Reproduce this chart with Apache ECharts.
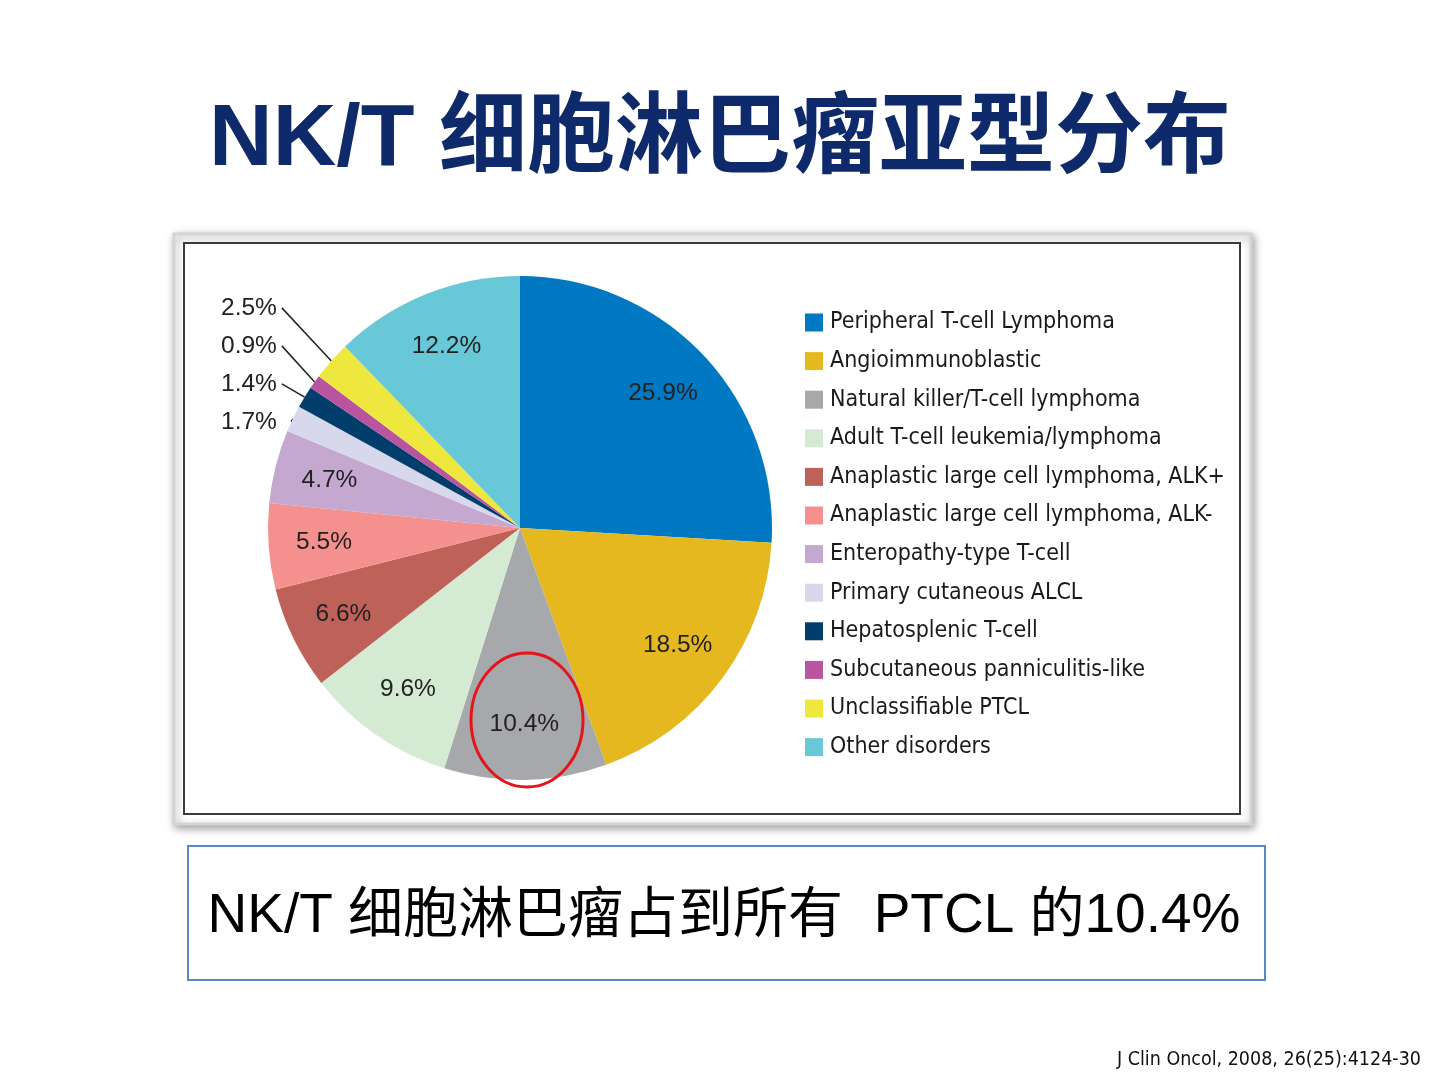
<!DOCTYPE html>
<html>
<head>
<meta charset="utf-8">
<script src="https://cdn.jsdelivr.net/npm/echarts@6/dist/echarts.min.js"></script>
<style>
html,body{margin:0;padding:0;background:#fff;}
#chart{width:1440px;height:1080px;}
</style>
</head>
<body>
<div id="chart"></div>
<script>
const titleText = 'NK/T 细胞淋巴瘤亚型分布';
const noteText = 'NK/T 细胞淋巴瘤占到所有  PTCL 的10.4%';
const sourceText = 'J Clin Oncol, 2008, 26(25):4124-30';
const categories = [
  'Peripheral T-cell Lymphoma',
  'Angioimmunoblastic',
  'Natural killer/T-cell lymphoma',
  'Adult T-cell leukemia/lymphoma',
  'Anaplastic large cell lymphoma, ALK+',
  'Anaplastic large cell lymphoma, ALK-',
  'Enteropathy-type T-cell',
  'Primary cutaneous ALCL',
  'Hepatosplenic T-cell',
  'Subcutaneous panniculitis-like',
  'Unclassifiable PTCL',
  'Other disorders'
];
const values = [25.9, 18.5, 10.4, 9.6, 6.6, 5.5, 4.7, 1.7, 1.4, 0.9, 2.5, 12.2];
const colors = ['#0079C2','#E6B820','#A7A8AC','#D5EAD3','#BE6159','#F4918F','#C4A8D0','#D8D8EC','#023E6B','#B9559F','#EEE83E','#68C8D8'];
const outsideLabeled = ['Primary cutaneous ALCL','Hepatosplenic T-cell','Subcutaneous panniculitis-like','Unclassifiable PTCL'];

const narrow = '"Liberation Sans Narrow", "DejaVu Sans Condensed", "Arial Narrow", sans-serif';
const sans = '"Liberation Sans", Arial, "Noto Sans CJK SC", sans-serif';

const mainData = categories.map((name, i) => {
  const out = outsideLabeled.includes(name);
  return {
    name: name,
    value: values[i],
    itemStyle: { color: colors[i] },
    label: { show: out },
    labelLine: { show: out }
  };
});
const labelData = categories.map((name, i) => ({
  name: name,
  value: values[i],
  label: { show: !outsideLabeled.includes(name) }
}));

const chart = echarts.init(document.getElementById('chart'), null, { renderer: 'canvas' });
chart.setOption({
  backgroundColor: '#ffffff',
  animation: false,
  color: colors,
  title: {
    text: titleText,
    left: 'center',
    top: 92,
    textStyle: {
      fontFamily: '"Liberation Sans", Arial, "Noto Sans CJK SC", sans-serif',
      fontSize: 88,
      fontWeight: 'bold',
      color: '#0F2A6B'
    }
  },
  legend: {
    orient: 'vertical',
    left: 800,
    top: 306,
    itemWidth: 18,
    itemHeight: 18,
    itemGap: 15.6,
    icon: 'rect',
    selectedMode: false,
    data: categories,
    textStyle: {
      fontFamily: narrow,
      fontSize: 23,
      color: '#1a1a1a',
      lineHeight: 18,
      padding: [0, 0, 0, 2]
    }
  },
  graphic: [
    {
      type: 'rect', z: -10,
      shape: { x: 174, y: 234, width: 1077, height: 590 },
      style: { fill: '#ffffff', stroke: '#d4d4d4', lineWidth: 3, shadowBlur: 8, shadowColor: 'rgba(0,0,0,0.35)', shadowOffsetX: 2, shadowOffsetY: 3 }
    },
    {
      type: 'rect', z: -9,
      shape: { x: 184, y: 243, width: 1056, height: 571 },
      style: { fill: '#ffffff', stroke: '#3a3a3a', lineWidth: 2 }
    },
    {
      type: 'ellipse', z: 100,
      shape: { cx: 527, cy: 720, rx: 56, ry: 67 },
      style: { fill: 'none', stroke: '#E5141B', lineWidth: 3 }
    },
    {
      type: 'rect', z: 1,
      shape: { x: 188, y: 846, width: 1077, height: 134 },
      style: { fill: '#ffffff', stroke: '#5B86C4', lineWidth: 2 }
    },
    {
      type: 'text', z: 2,
      x: 724, y: 917,
      style: {
        text: noteText,
        fontFamily: sans,
        fontSize: 55,
        fill: '#000000',
        textAlign: 'center',
        textVerticalAlign: 'middle'
      }
    },
    {
      type: 'text', z: 2,
      x: 1421, y: 1060,
      style: {
        text: sourceText,
        fontFamily: narrow,
        fontSize: 19.5,
        fill: '#111111',
        textAlign: 'right',
        textVerticalAlign: 'middle'
      }
    }
  ],
  series: [
    {
      type: 'pie',
      name: 'main',
      center: [520, 528],
      radius: [0, 252],
      startAngle: 90,
      clockwise: true,
      silent: true,
      avoidLabelOverlap: true,
      itemStyle: { borderWidth: 0 },
      label: {
        position: 'outside',
        alignTo: 'edge',
        edgeDistance: 221,
        overflow: 'none',
        formatter: '{c}%',
        fontFamily: sans,
        fontSize: 24.5,
        color: '#222',
        lineHeight: 36
      },
      labelLine: {
        length: 80,
        length2: 4,
        lineStyle: { color: '#222', width: 1.5 }
      },
      data: mainData
    },
    {
      type: 'pie',
      name: 'labels',
      center: [520, 528],
      radius: [135, 252],
      startAngle: 90,
      clockwise: true,
      silent: true,
      legendHoverLink: false,
      itemStyle: { color: 'rgba(0,0,0,0)', borderWidth: 0 },
      label: {
        position: 'inside',
        formatter: '{c}%',
        fontFamily: sans,
        fontSize: 24.5,
        color: '#222'
      },
      labelLine: { show: false },
      data: labelData
    }
  ]
});
</script>
</body>
</html>
